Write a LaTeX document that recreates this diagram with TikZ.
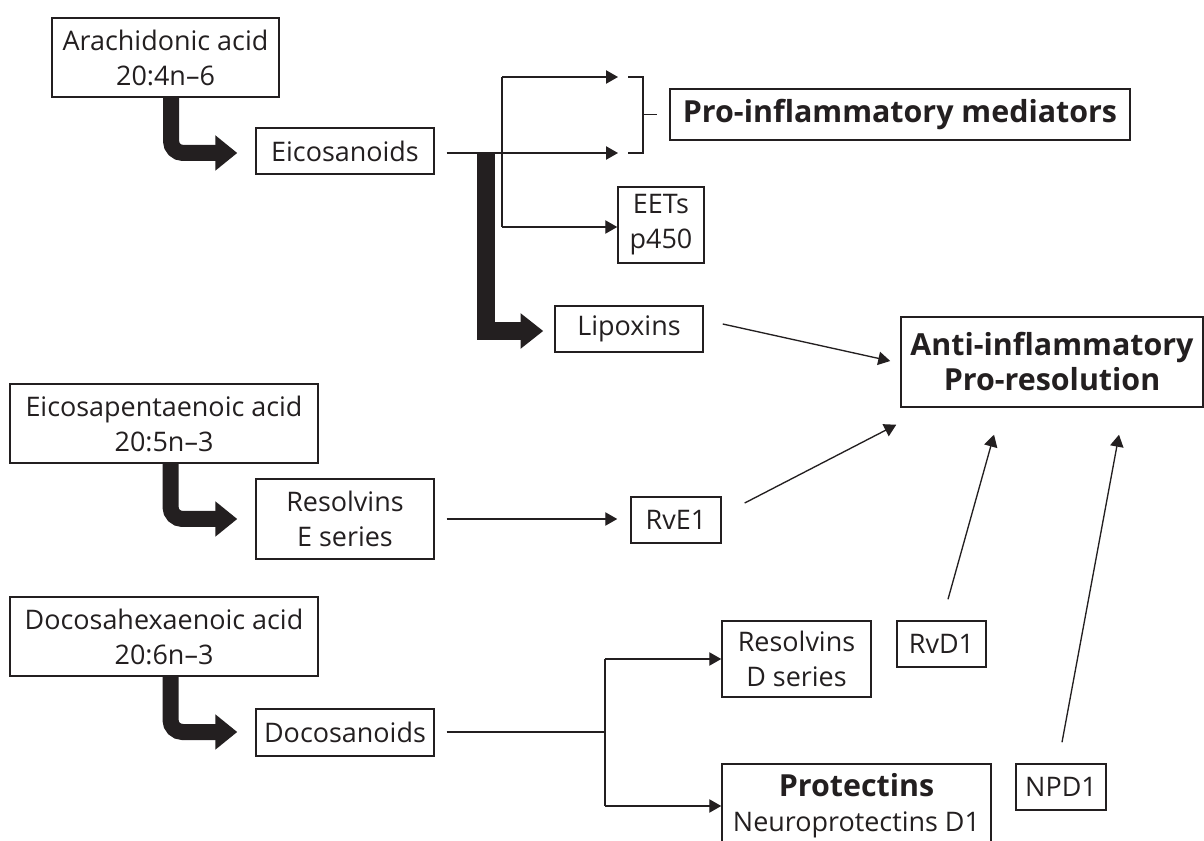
\documentclass[tikz,border=0pt]{standalone}
\usepackage{fontspec}
\setmainfont{Open Sans}
\usetikzlibrary{arrows.meta,calc}
\definecolor{ink}{HTML}{231F20}
\begin{document}
\begin{tikzpicture}[x=0.75pt,y=-0.75pt,
  box/.style={draw=ink,line width=1.1pt,text=ink,inner sep=0pt,align=center,font=\fontsize{20.2}{26.25}\selectfont},
  bbox/.style={box,font=\fontsize{22.8}{26.25}\selectfont\bfseries},
  wh/.style 2 args={minimum width=#1*0.75pt,minimum height=#2*0.75pt},
  thin/.style={draw=ink,line width=1pt},
  arr/.style={thin,-{Triangle[length=9pt,width=10pt]}},
  fat/.style={draw=ink,line width=12pt,rounded corners=9pt,-{Triangle[length=16.5pt,width=25.5pt]}},
]
\useasboundingbox (0,0) rectangle (1204,841);
\fill[white] (0,0) rectangle (1204,841);

% nodes
\node[box,wh={227}{79}] (aa) at (165.5,57.5) {Arachidonic acid\\20:4n–6};
\node[box,wh={178}{46}] (eico) at (345,151) {Eicosanoids};
\node[bbox,wh={460}{51}] (proinf) at (900,114.5) {Pro-inflammatory mediators};
\node[box,wh={86}{76}] (eets) at (661,225) {EETs\\p450};
\node[box,wh={148}{46}] (lipox) at (629,329) {Lipoxins};
\node[bbox,wh={302}{90}] (anti) at (1052,362) {Anti-inflammatory\\Pro-resolution};
\node[box,wh={308}{79}] (epa) at (164,423.5) {Eicosapentaenoic acid\\20:5n–3};
\node[box,wh={178}{80}] (rese) at (345,519) {Resolvins\\E series};
\node[box,wh={90}{46}] (rve1) at (676,520) {RvE1};
\node[box,wh={308}{79}] (dha) at (164,636.5) {Docosahexaenoic acid\\20:6n–3};
\node[box,wh={178}{47}] (doco) at (345,732.5) {Docosanoids};
\node[box,wh={149}{76}] (resd) at (796.5,659) {Resolvins\\D series};
\node[box,wh={89}{46}] (rvd1) at (941.5,644) {RvD1};
\node[box,wh={269}{84}] (prot) at (856.5,806) {{\fontsize{22.8}{26.25}\selectfont\bfseries Protectins}\\Neuroprotectins D1};
\node[box,wh={90}{46}] (npd1) at (1061,787) {NPD1};

% junction coordinates
\coordinate (t1) at (618,77);
\coordinate (t2) at (618,153);
\coordinate (v1) at (502,77);
\coordinate (v2) at (502,227);
\coordinate (fork) at (485.5,153);
\coordinate (b1) at (628,77);
\coordinate (b2) at (643,77);
\coordinate (b3) at (643,153);
\coordinate (b4) at (628,153);
\coordinate (bm) at (643,114.5);
\coordinate (dv) at (605,732);
\coordinate (d1) at (605,659);
\coordinate (d2) at (605,806);

% fat arrows
\draw[fat] ($(aa.south)+(5.5,0)$) |- ($(eico.west)+(-18,2)$);
\draw[fat] ($(epa.south)+(6.5,0)$) |- ($(rese.west)+(-18,0)$);
\draw[fat] ($(dha.south)+(6.5,0)$) |- ($(doco.west)+(-18,-0.5)$);
\draw[draw=ink,line width=13.5pt,-{Triangle[length=17pt,width=25.5pt]}] (fork) |- ($(lipox.west)+(-11,2)$);

% eicosanoid branches
\draw[arr] ($(eico.east)+(12,2)$) -- (t2);
\draw[thin] (v1) -- (v2);
\draw[arr] (v1) -- (t1);
\draw[arr] (v2) -- (eets.west |- v2);
\draw[thin] (b1) -- (b2) -- (b3) -- (b4);
\draw[thin] (bm) -- ($(proinf.west)+(-12,0)$);

% EPA
\draw[arr] ($(rese.east)+(12,0)$) -- ($(rve1.west)+(-13,-1)$);

% DHA
\draw[thin] ($(doco.east)+(12,-0.5)$) -- (dv);
\draw[thin] (d1) -- (d2);
\draw[arr] (d1) -- (resd.west);
\draw[arr] (d2) -- (prot.west);

% to anti-inflammatory
\draw[arr] ($(lipox.east)+(19,-5)$) -- ($(anti.west)+(-10,-1)$);
\draw[arr] ($(rve1.east)+(23,-17)$) -- ($(anti.south west)+(-4,17)$);
\draw[arr] ($(rvd1.north)+(6.5,-21)$) -- ($(anti.south)+(-58,27)$);
\draw[arr] ($(npd1.north)+(1,-21)$) -- ($(anti.south)+(67,27)$);
\end{tikzpicture}
\end{document}
